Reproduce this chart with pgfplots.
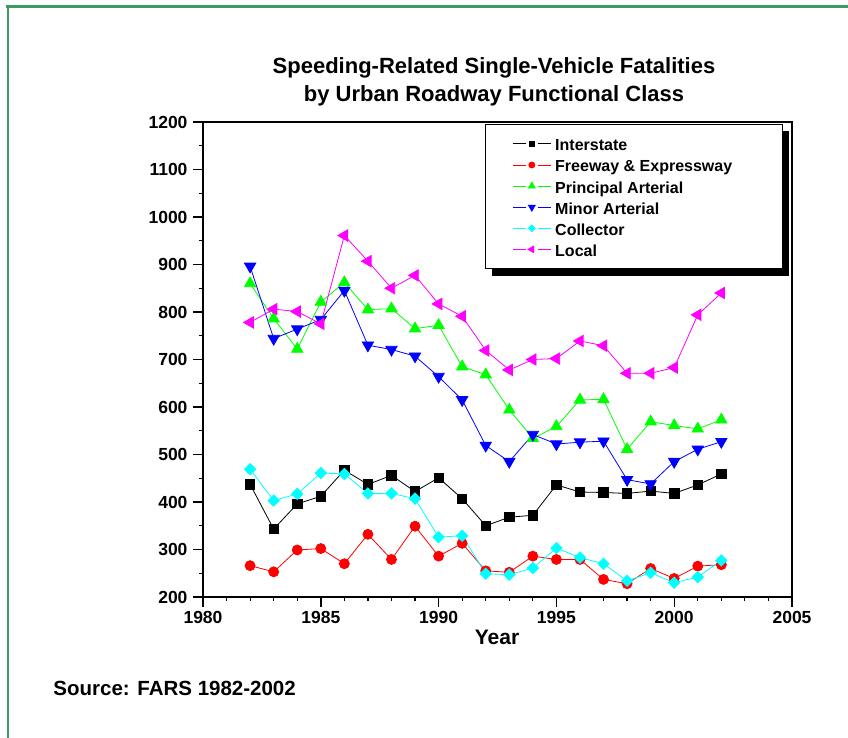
\documentclass[border=0pt]{standalone}
\usepackage{pgfplots}
\pgfplotsset{compat=1.18}
\usepackage{pgfplotstable}
\usepackage{fontspec}
\setmainfont{Liberation Sans}
\definecolor{framegreen}{RGB}{60,155,100}
\definecolor{cgreen}{RGB}{0,255,0}
\definecolor{ccyan}{RGB}{0,255,255}
\definecolor{cmag}{RGB}{255,0,255}

\pgfplotstableread{
year inter free princ minor coll local
1982 437 266 860 896 469 778
1983 343 253 786 744 403 806
1984 396 299 722 764 417 801
1985 412 302 821 784 461 775
1986 467 270 862 845 459 961
1987 437 332 805 730 418 907
1988 456 279 807 721 418 850
1989 422 349 765 707 407 877
1990 451 286 772 664 326 817
1991 407 313 685 615 329 791
1992 350 255 668 519 249 719
1993 368 252 594 485 247 678
1994 372 286 534 542 261 700
1995 436 279 559 522 303 702
1996 421 279 615 526 283 739
1997 420 237 616 528 270 729
1998 418 228 511 447 234 671
1999 423 260 569 438 251 671
2000 418 239 561 485 230 683
2001 436 265 554 511 242 794
2002 459 268 573 527 277 840
}\datatable

\newcommand{\lgpad}[1]{\makebox[198pt][l]{\rule{0pt}{15.5pt}#1}}

\begin{document}
\begin{tikzpicture}
\path[use as bounding box] (-203pt,-141pt) rectangle (645pt,597pt);
\fill[white] (-203pt,-141pt) rectangle (645pt,597pt);
\draw[framegreen, line width=2.5pt] (-195.2pt,-141pt) -- (-195.2pt,590.7pt);
\draw[framegreen, line width=2.7pt] (-196.5pt,590.7pt) -- (645pt,590.7pt);
\begin{axis}[
  scale only axis,
  width=589pt, height=475pt,
  at={(0pt,0pt)}, anchor=south west,
  xmin=1980, xmax=2005, ymin=200, ymax=1200,
  xtick={1980,1985,...,2005}, ytick={200,300,...,1200},
  minor x tick num=4, minor y tick num=1,
  tick pos=left, tick align=outside,
  major tick length=10pt, minor tick length=4pt,
  every major tick/.style={black, line width=1.4pt},
  every minor tick/.style={black, line width=1.2pt},
  axis line style={line width=1.6pt},
  /pgf/number format/1000 sep={},
  /pgf/number format/assume math mode=true,
  ticklabel style={font=\fontsize{17.5}{18}\selectfont\bfseries},
  yticklabel style={xshift=-2pt},
  xticklabel style={yshift=-1pt},
  legend cell align=left,
  legend style={at={(0.4788,0.9958)}, anchor=north west,
    draw=black, line width=0.8pt, fill=white,
    inner xsep=27pt, inner ysep=9pt, row sep=0.1pt, column sep=2pt,
    font=\fontsize{16}{16}\selectfont\bfseries},
  legend image code/.code={%
    \draw[#1, mark=none] (0pt,0pt) -- (13pt,0pt);
    \draw[#1, mark=none] (25pt,0pt) -- (38pt,0pt);
    \draw[#1, only marks, every mark/.append style={scale=0.6}]
      plot coordinates {(19pt,0pt)};},
]
\addplot[black, line width=0.8pt, mark=square*, mark size=4.7pt,
  mark options={fill=black, draw=black}] table[x=year, y=inter] {\datatable};
\addlegendentry{\lgpad{Interstate}}
\addplot[red, line width=0.8pt, mark=*, mark size=5pt,
  mark options={fill=red, draw=red}] table[x=year, y=free] {\datatable};
\addlegendentry{\lgpad{Freeway \& Expressway}}
\addplot[cgreen, line width=0.8pt, mark=triangle*, mark size=6.5pt,
  mark options={fill=cgreen, draw=cgreen}] table[x=year, y=princ] {\datatable};
\addlegendentry{\lgpad{Principal Arterial}}
\addplot[blue, line width=0.8pt, mark=triangle*, mark size=6.5pt,
  mark options={fill=blue, draw=blue, rotate=180}] table[x=year, y=minor] {\datatable};
\addlegendentry{\lgpad{Minor Arterial}}
\addplot[ccyan, line width=0.8pt, mark=square*, mark size=4pt,
  mark options={fill=ccyan, draw=ccyan, rotate=45}] table[x=year, y=coll] {\datatable};
\addlegendentry{\lgpad{Collector}}
\addplot[cmag, line width=0.8pt, mark=triangle*, mark size=6.5pt,
  mark options={fill=cmag, draw=cmag, rotate=90}] table[x=year, y=local] {\datatable};
\addlegendentry{\lgpad{Local}}
\fill[black] (rel axis cs:0.4907,0.676) rectangle (rel axis cs:0.9949,0.9811);
\end{axis}
\node[align=center, font=\fontsize{22}{28}\selectfont\bfseries] at (291pt,515pt)
  {Speeding-Related Single-Vehicle Fatalities\\by Urban Roadway Functional Class};
\node[anchor=base, inner sep=0pt, font=\fontsize{21}{21}\selectfont\bfseries] at (294pt,-48pt) {Year};
\node[anchor=base west, inner sep=0pt, font=\fontsize{20.5}{21}\selectfont\bfseries] at (-149.7pt,-99pt) {Source: FARS 1982-2002};
\end{tikzpicture}
\end{document}
